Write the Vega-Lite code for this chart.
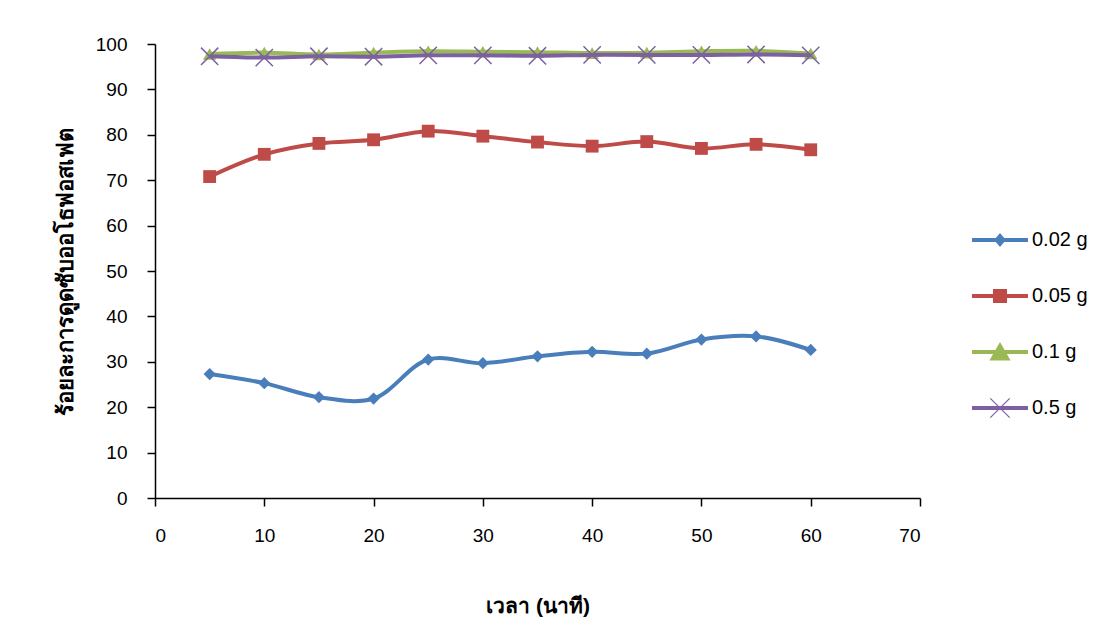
{
  "$schema": "https://vega.github.io/schema/vega-lite/v6.json",
  "width": 765,
  "height": 454,
  "autosize": "none",
  "padding": {"left": 155, "top": 44, "right": 185, "bottom": 135},
  "background": "white",
  "config": {
    "view": {"stroke": null},
    "font": "Liberation Sans",
    "axis": {
      "domainColor": "black", "domainWidth": 1.5, "tickColor": "black", "tickWidth": 1.5, "tickSize": 8,
      "grid": false, "labelColor": "black", "labelFont": "Liberation Sans", "labelFontSize": 19,
      "titleColor": "black", "titleFontWeight": "bold"
    }
  },
  "data": {
    "values": [
      {"t": 5, "pct": 27.3, "series": "0.02 g"}, {"t": 10, "pct": 25.3, "series": "0.02 g"}, {"t": 15, "pct": 22.2, "series": "0.02 g"}, {"t": 20, "pct": 21.9, "series": "0.02 g"}, {"t": 25, "pct": 30.5, "series": "0.02 g"}, {"t": 30, "pct": 29.7, "series": "0.02 g"}, {"t": 35, "pct": 31.2, "series": "0.02 g"}, {"t": 40, "pct": 32.2, "series": "0.02 g"}, {"t": 45, "pct": 31.8, "series": "0.02 g"}, {"t": 50, "pct": 34.9, "series": "0.02 g"}, {"t": 55, "pct": 35.6, "series": "0.02 g"}, {"t": 60, "pct": 32.6, "series": "0.02 g"},
      {"t": 5, "pct": 70.8, "series": "0.05 g"}, {"t": 10, "pct": 75.7, "series": "0.05 g"}, {"t": 15, "pct": 78.1, "series": "0.05 g"}, {"t": 20, "pct": 78.9, "series": "0.05 g"}, {"t": 25, "pct": 80.8, "series": "0.05 g"}, {"t": 30, "pct": 79.7, "series": "0.05 g"}, {"t": 35, "pct": 78.4, "series": "0.05 g"}, {"t": 40, "pct": 77.5, "series": "0.05 g"}, {"t": 45, "pct": 78.5, "series": "0.05 g"}, {"t": 50, "pct": 77.0, "series": "0.05 g"}, {"t": 55, "pct": 77.9, "series": "0.05 g"}, {"t": 60, "pct": 76.7, "series": "0.05 g"},
      {"t": 5, "pct": 97.8, "series": "0.1 g"}, {"t": 10, "pct": 98.1, "series": "0.1 g"}, {"t": 15, "pct": 97.7, "series": "0.1 g"}, {"t": 20, "pct": 98.1, "series": "0.1 g"}, {"t": 25, "pct": 98.4, "series": "0.1 g"}, {"t": 30, "pct": 98.3, "series": "0.1 g"}, {"t": 35, "pct": 98.2, "series": "0.1 g"}, {"t": 40, "pct": 98.0, "series": "0.1 g"}, {"t": 45, "pct": 98.1, "series": "0.1 g"}, {"t": 50, "pct": 98.4, "series": "0.1 g"}, {"t": 55, "pct": 98.5, "series": "0.1 g"}, {"t": 60, "pct": 97.9, "series": "0.1 g"},
      {"t": 5, "pct": 97.3, "series": "0.5 g"}, {"t": 10, "pct": 97.0, "series": "0.5 g"}, {"t": 15, "pct": 97.3, "series": "0.5 g"}, {"t": 20, "pct": 97.2, "series": "0.5 g"}, {"t": 25, "pct": 97.5, "series": "0.5 g"}, {"t": 30, "pct": 97.5, "series": "0.5 g"}, {"t": 35, "pct": 97.4, "series": "0.5 g"}, {"t": 40, "pct": 97.6, "series": "0.5 g"}, {"t": 45, "pct": 97.6, "series": "0.5 g"}, {"t": 50, "pct": 97.6, "series": "0.5 g"}, {"t": 55, "pct": 97.7, "series": "0.5 g"}, {"t": 60, "pct": 97.5, "series": "0.5 g"}
    ]
  },
  "encoding": {
    "x": {
      "field": "t", "type": "quantitative",
      "scale": {"domain": [0, 70], "nice": false},
      "axis": {"values": [0, 10, 20, 30, 40, 50, 60, 70], "title": "เวลา (นาที)", "labelPadding": 20, "titlePadding": 50, "titleFontSize": 21}
    },
    "y": {
      "field": "pct", "type": "quantitative",
      "scale": {"domain": [0, 100], "nice": false},
      "axis": {"values": [0, 10, 20, 30, 40, 50, 60, 70, 80, 90, 100], "title": "ร้อยละการดูดซับออโธฟอสเฟต", "labelPadding": 20, "titlePadding": 18, "titleFontSize": 22}
    }
  },
  "layer": [
    {
      "transform": [{"filter": "datum.series != '0.5 g'"}],
      "mark": {"type": "line", "interpolate": "catmull-rom", "strokeWidth": 4},
      "encoding": {
        "color": {"field": "series", "type": "nominal", "scale": {"domain": ["0.02 g", "0.05 g", "0.1 g"], "range": ["#4A7EBB", "#BE4B48", "#98B954"]}, "legend": null}
      }
    },
    {
      "transform": [{"filter": "datum.series != '0.5 g'"}],
      "mark": {"type": "point", "filled": true, "opacity": 1},
      "encoding": {
        "color": {"field": "series", "type": "nominal", "scale": {"domain": ["0.02 g", "0.05 g", "0.1 g"], "range": ["#4A7EBB", "#BE4B48", "#98B954"]}, "legend": null},
        "shape": {"field": "series", "type": "nominal", "scale": {"domain": ["0.02 g", "0.05 g", "0.1 g"], "range": ["diamond", "square", "triangle-up"]}, "legend": null},
        "size": {"field": "series", "type": "nominal", "scale": {"domain": ["0.02 g", "0.05 g", "0.1 g"], "range": [150, 180, 260]}, "legend": null}
      }
    },
    {
      "transform": [{"filter": "datum.series == '0.5 g'"}],
      "mark": {"type": "line", "interpolate": "catmull-rom", "strokeWidth": 4, "color": "#7D60A0"},
      "encoding": {}
    },
    {
      "transform": [{"filter": "datum.series == '0.5 g'"}],
      "mark": {"type": "point", "shape": "M-1,-1L1,1M-1,1L1,-1", "filled": false, "stroke": "#7D60A0", "strokeWidth": 1.5, "size": 300, "opacity": 1},
      "encoding": {}
    },
    {
      "transform": [{"filter": "false"}],
      "mark": {"type": "point", "filled": true, "opacity": 1, "strokeWidth": 0},
      "encoding": {
        "color": {
          "field": "series", "type": "nominal",
          "scale": {"domain": ["0.02 g", "0.05 g", "0.1 g", "0.5 g"], "range": ["#4A7EBB", "#BE4B48", "#98B954", "#7D60A0"]},
          "legend": {"title": null, "orient": "none", "legendX": 817, "legendY": 168, "symbolSize": 3136, "rowPadding": 18, "labelOffset": 4, "padding": 0, "labelFontSize": 20, "labelFont": "Liberation Sans", "labelColor": "black", "symbolOpacity": 1, "symbolStrokeWidth": 0}
        },
        "shape": {
          "field": "series", "type": "nominal",
          "scale": {"domain": ["0.02 g", "0.05 g", "0.1 g", "0.5 g"], "range": [
            "M-1,-0.07H1V0.07H-1ZM0,-0.25L0.21,0L0,0.25L-0.21,0Z",
            "M-1,-0.07H1V0.07H-1ZM-0.25,-0.25H0.25V0.25H-0.25Z",
            "M-1,-0.07H1V0.07H-1ZM0,-0.36L0.38,0.3H-0.38Z",
            "M-1,-0.07H1V0.07H-1ZM-0.36,-0.33L-0.33,-0.36L0.36,0.33L0.33,0.36ZM-0.33,0.36L-0.36,0.33L0.33,-0.36L0.36,-0.33Z"
          ]},
          "legend": {"title": null, "orient": "none", "legendX": 817, "legendY": 168, "symbolSize": 3136, "rowPadding": 18, "labelOffset": 4, "padding": 0, "labelFontSize": 20, "labelFont": "Liberation Sans", "labelColor": "black", "symbolOpacity": 1, "symbolStrokeWidth": 0}
        }
      }
    }
  ],
  "resolve": {"scale": {"color": "independent", "shape": "independent", "size": "independent"}}
}
